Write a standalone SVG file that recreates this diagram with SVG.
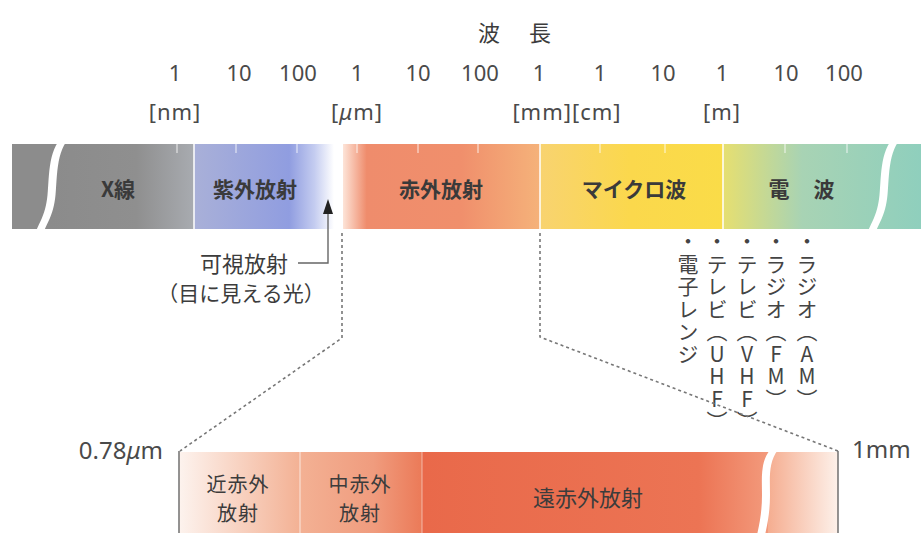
<svg xmlns="http://www.w3.org/2000/svg" width="921" height="533" viewBox="0 0 921 533">
<style>
.t{font-family:"Noto Sans CJK JP","Noto Sans",sans-serif;fill:#3c3c3c}
.num{font-family:"Noto Sans","Noto Sans CJK JP",sans-serif;font-size:22px;fill:#4a4a4a;text-anchor:middle}
.unit{font-family:"Noto Sans","Noto Sans CJK JP",sans-serif;font-size:22px;fill:#4a4a4a;text-anchor:middle;letter-spacing:1px}
.lab{font-family:"Noto Sans CJK JP",sans-serif;font-size:21px;font-weight:bold;fill:#3a3a3a;text-anchor:middle}
.vt{font-family:"Noto Sans CJK JP",sans-serif;font-size:21px;fill:#444;writing-mode:vertical-rl;text-orientation:upright;letter-spacing:1.5px}
.sub{font-family:"Noto Sans CJK JP",sans-serif;font-size:20px;fill:#3c3c3c;text-anchor:middle;letter-spacing:1px}
.dot{fill:none;stroke:#777;stroke-width:1.6;stroke-dasharray:3 3}
.sol{fill:none;stroke:#666;stroke-width:1.4}
.tick{stroke:#fff;stroke-width:1.2;opacity:.7}
</style>
<defs>
<linearGradient id="gX" x1="0" x2="1"><stop offset="0" stop-color="#8b8b8b"/><stop offset="0.6" stop-color="#8f8f8f"/><stop offset="1" stop-color="#a8abb0"/></linearGradient>
<linearGradient id="gUV" x1="0" x2="1"><stop offset="0" stop-color="#a9b0d8"/><stop offset="0.68" stop-color="#909de0"/><stop offset="0.86" stop-color="#c4ccf0"/><stop offset="1" stop-color="#ffffff"/></linearGradient>
<linearGradient id="gIR" x1="0" x2="1"><stop offset="0" stop-color="#fde4d8"/><stop offset="0.12" stop-color="#ef8c6c"/><stop offset="0.6" stop-color="#f08f6c"/><stop offset="1" stop-color="#f5b27a"/></linearGradient>
<linearGradient id="gMW" x1="0" x2="1"><stop offset="0" stop-color="#f8d370"/><stop offset="0.5" stop-color="#fbd84c"/><stop offset="1" stop-color="#fadc48"/></linearGradient>
<linearGradient id="gRW" x1="0" x2="1"><stop offset="0" stop-color="#e6df70"/><stop offset="0.4" stop-color="#a8d3b4"/><stop offset="1" stop-color="#8fcfbd"/></linearGradient>
<linearGradient id="gN" x1="0" x2="1"><stop offset="0" stop-color="#fdf3ee"/><stop offset="1" stop-color="#f3b194"/></linearGradient>
<linearGradient id="gM" x1="0" x2="1"><stop offset="0" stop-color="#f3b194"/><stop offset="0.6" stop-color="#f09c7e"/><stop offset="1" stop-color="#eb7a58"/></linearGradient>
<linearGradient id="gF" x1="0" x2="1"><stop offset="0" stop-color="#e9694a"/><stop offset="0.8" stop-color="#ec7454"/><stop offset="1" stop-color="#f39a7c"/></linearGradient>
<linearGradient id="gF2" x1="0" x2="1"><stop offset="0" stop-color="#f5ad90"/><stop offset="1" stop-color="#fdf1ea"/></linearGradient>
</defs>

<g id="title">
<text class="t" x="489" y="41" font-size="22" text-anchor="middle" fill="#444">波</text>
<text class="t" x="540" y="41" font-size="22" text-anchor="middle" fill="#444">長</text>
</g>

<g id="scale">
<text class="num" x="175" y="81">1</text>
<text class="num" x="239" y="81">10</text>
<text class="num" x="298" y="81">100</text>
<text class="num" x="357" y="81">1</text>
<text class="num" x="418" y="81">10</text>
<text class="num" x="480" y="81">100</text>
<text class="num" x="539" y="81">1</text>
<text class="num" x="600" y="81">1</text>
<text class="num" x="663" y="81">10</text>
<text class="num" x="722" y="81">1</text>
<text class="num" x="786" y="81">10</text>
<text class="num" x="844" y="81">100</text>
<text class="unit" x="175" y="120">[nm]</text>
<text class="unit" x="357" y="120">[<tspan font-style="italic">μ</tspan>m]</text>
<text class="unit" x="567" y="120">[mm][cm]</text>
<text class="unit" x="722" y="120">[m]</text>
</g>

<g id="band">
<rect x="12" y="144" width="50" height="85" fill="#8c8c8c"/>
<rect x="50" y="144" width="144" height="85" fill="url(#gX)"/>
<rect x="194" y="144" width="140" height="85" fill="url(#gUV)"/>
<rect x="343" y="144" width="197" height="85" fill="url(#gIR)"/>
<rect x="540" y="144" width="183" height="85" fill="url(#gMW)"/>
<rect x="723" y="144" width="198" height="85" fill="url(#gRW)"/>
<path d="M58 142 C46 160 50 190 46 205 C44 215 40 222 36 231 L44 231 C48 222 52 215 54 205 C58 190 54 160 66 142 Z" fill="#fff"/>
<path d="M890 142 C878 160 882 190 878 205 C876 215 872 222 868 231 L876 231 C880 222 884 215 886 205 C890 190 886 160 898 142 Z" fill="#fff"/>
<line x1="194" y1="144" x2="194" y2="229" stroke="#fff" stroke-width="1.5"/>
<line x1="540" y1="144" x2="540" y2="229" stroke="#fff" stroke-width="1.5"/>
<line x1="723" y1="144" x2="723" y2="229" stroke="#fff" stroke-width="1.5"/>
<g class="tick">
<line x1="177" y1="144" x2="177" y2="153"/>
<line x1="236" y1="144" x2="236" y2="153"/>
<line x1="297" y1="144" x2="297" y2="153"/>
<line x1="357" y1="144" x2="357" y2="153"/>
<line x1="418" y1="144" x2="418" y2="153"/>
<line x1="478" y1="144" x2="478" y2="153"/>
<line x1="600" y1="144" x2="600" y2="153"/>
<line x1="665" y1="144" x2="665" y2="153"/>
<line x1="785" y1="144" x2="785" y2="153"/>
<line x1="847" y1="144" x2="847" y2="153"/>
</g>
</g>

<g id="xray"><text class="lab" x="118" y="197">X線</text></g>
<g id="uv"><text class="lab" x="255" y="197">紫外放射</text></g>
<g id="ir"><text class="lab" x="441" y="197">赤外放射</text></g>
<g id="microwave"><text class="lab" x="634" y="197">マイクロ波</text></g>
<g id="radio"><text class="lab" x="779" y="197">電</text><text class="lab" x="824" y="197">波</text></g>

<g id="visible">
<text class="t" x="288" y="272" font-size="22" text-anchor="end" fill="#444">可視放射</text>
<text class="t" x="241" y="301" font-size="21" text-anchor="middle" fill="#444">（目に見える光）</text>
</g>

<g id="uses">
<text class="vt" x="688" y="231">・電子レンジ</text>
<text class="vt" x="717" y="231">・テレビ（UHF）</text>
<text class="vt" x="747" y="231">・テレビ（VHF）</text>
<text class="vt" x="776" y="231">・ラジオ（FM）</text>
<text class="vt" x="807" y="231">・ラジオ（AM）</text>
</g>

<g id="lowerband">
<rect x="179" y="452" width="121" height="81" fill="url(#gN)"/>
<rect x="300" y="452" width="122" height="81" fill="url(#gM)"/>
<rect x="422" y="452" width="346" height="81" fill="url(#gF)"/>
<rect x="768" y="452" width="70" height="81" fill="url(#gF2)"/>
<path d="M770 450 C760 462 762 480 762 495 C762 510 760 522 757 535 L765 535 C768 522 770 510 770 495 C770 480 768 462 778 450 Z" fill="#fff"/>
<line x1="300" y1="452" x2="300" y2="533" stroke="#fff" stroke-width="1" opacity="0.7"/>
<line x1="422" y1="452" x2="422" y2="533" stroke="#fff" stroke-width="1" opacity="0.5"/>
</g>
<g id="nir"><text class="sub" x="238" y="492">近赤外</text><text class="sub" x="238" y="521">放射</text></g>
<g id="mir"><text class="sub" x="360" y="492">中赤外</text><text class="sub" x="360" y="521">放射</text></g>
<g id="fir"><text class="sub" x="588" y="506" style="font-size:22px;letter-spacing:0">遠赤外放射</text></g>

<g id="range-labels">
<text class="num" x="163" y="459" style="text-anchor:end;font-size:24px">0.78<tspan font-style="italic">μ</tspan>m</text>
<text class="num" x="852" y="458" style="text-anchor:start;font-size:24px">1mm</text>
</g>

<g id="connectors">
<path class="sol" d="M298 263 H328 V212"/>
<polygon points="328,199 323,214 333,214" fill="#222"/>
<path class="dot" d="M342 233 V338 L180 451"/>
<path class="dot" d="M540 233 V337 L838 451"/>
<path class="sol" d="M179 451 V533"/>
<path class="sol" d="M838 451 V533"/>
</g>
</svg>
